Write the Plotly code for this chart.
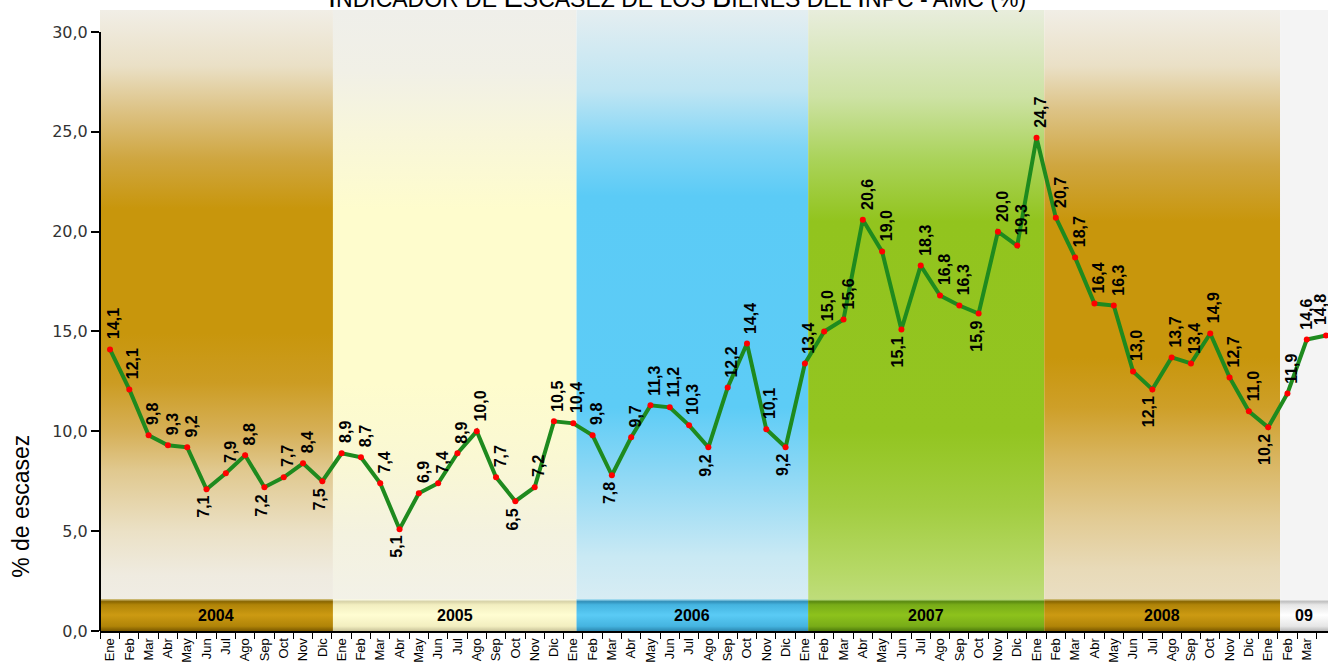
import plotly.graph_objects as go

# ---------------- data ----------------
months = ["Ene", "Feb", "Mar", "Abr", "May", "Jun", "Jul", "Ago", "Sep", "Oct", "Nov", "Dic"]
years = ["2004", "2005", "2006", "2007", "2008", "09"]
month_labels = months * 5 + months[:4]

esc_2004 = [14.1, 12.1, 9.8, 9.3, 9.2, 7.1, 7.9, 8.8, 7.2, 7.7, 8.4, 7.5]
esc_2005 = [8.9, 8.7, 7.4, 5.1, 6.9, 7.4, 8.9, 10.0, 7.7, 6.5, 7.2, 10.5]
esc_2006 = [10.4, 9.8, 7.8, 9.7, 11.3, 11.2, 10.3, 9.2, 12.2, 14.4, 10.1, 9.2]
esc_2007 = [13.4, 15.0, 15.6, 20.6, 19.0, 15.1, 18.3, 16.8, 16.3, 15.9, 20.0, 19.3]
esc_2008 = [24.7, 20.7, 18.7, 16.4, 16.3, 13.0, 12.1, 13.7, 13.4, 14.9, 12.7, 11.0]
esc_2009 = [10.2, 11.9, 14.6, 14.8]
values = esc_2004 + esc_2005 + esc_2006 + esc_2007 + esc_2008 + esc_2009
y_ticks = [0, 5, 10, 15, 20, 25, 30]

# label placement (style): A = above point, B = below point
label_side = list("AAAAABAABAAB" "AAABAAAAABAA" "AABAAAABAAAB" "AAAAABAAABAA" "AAAAAABAAAAA" "BAAA")

# ---------------- styling ----------------
YTOP = 31.1
XR = [-0.518, 63.1]
band_edges = [-0.52, 11.55, 24.17, 36.17, 48.4, 60.62, 63.2]
BAR_TOP = 1.6
FONT = "Liberation Sans, Arial, sans-serif"

band_scales = [
    [[0, "#F1EFE9"], [0.09, "#EFEBE0"], [0.16, "#EBE1C6"], [0.26, "#E0C88E"], [0.32, "#D6B058"],
     [0.40, "#CC9C22"], [0.48, "#C8960C"], [0.68, "#C8960C"], [0.76, "#CFA640"], [0.84, "#DDC386"],
     [0.91, "#EAE0C6"], [1, "#F1EEE6"]],
    [[0, "#F2F1EB"], [0.16, "#F4F2DF"], [0.28, "#FAF8D3"], [0.40, "#FEFCCD"], [0.68, "#FEFCCD"],
     [0.80, "#F8F6DA"], [0.90, "#F1F0E6"], [1, "#EFEFEA"]],
    [[0, "#E2EFF3"], [0.12, "#C9E9F4"], [0.26, "#8AD7F5"], [0.36, "#5DCCF6"], [0.70, "#5BCBF6"],
     [0.78, "#80D5F6"], [0.87, "#BEE5F3"], [1, "#E4EEF1"]],
    [[0, "#C8E190"], [0.10, "#B5D865"], [0.20, "#A2CD40"], [0.32, "#93C521"], [0.66, "#92C41E"],
     [0.76, "#AAD35A"], [0.86, "#CDE2A4"], [1, "#E8EDDC"]],
    [[0, "#EBE2CC"], [0.10, "#E8DAB8"], [0.18, "#E2CB94"], [0.28, "#D8B45E"], [0.36, "#CE9F28"],
     [0.44, "#C8960C"], [0.66, "#C8960C"], [0.75, "#CFA640"], [0.84, "#DDC386"], [0.91, "#EAE0C6"],
     [1, "#F1EEE6"]],
    [[0, "#F4F4F4"], [1, "#F4F4F4"]],
]
bar_scales = [
    [[0, "#7A5800"], [0.15, "#B08408"], [0.5, "#CC9A12"], [0.82, "#B08408"], [0.92, "#8A6600"], [1, "#D8C888"]],
    [[0, "#C9C49A"], [0.15, "#F2EEC0"], [0.5, "#FFFDD2"], [0.82, "#F2EEC0"], [0.92, "#D8D3A8"], [1, "#FFFFF0"]],
    [[0, "#2C88B0"], [0.15, "#45B4E0"], [0.5, "#5ACBF5"], [0.82, "#45B4E0"], [0.92, "#3190BA"], [1, "#B8E8F8"]],
    [[0, "#4E7C0C"], [0.15, "#78AC18"], [0.5, "#8DC21C"], [0.82, "#78AC18"], [0.92, "#5A8A10"], [1, "#C8E890"]],
    [[0, "#7A5800"], [0.15, "#B08408"], [0.5, "#CC9A12"], [0.82, "#B08408"], [0.92, "#8A6600"], [1, "#D8C888"]],
    [[0, "#B8B8B8"], [0.15, "#E6E6E6"], [0.5, "#FFFFFF"], [0.82, "#E6E6E6"], [0.92, "#C0C0C0"], [1, "#FFFFFF"]],
]

fig = go.Figure()

# background year bands (vertical gradients)
for i in range(len(years)):
    x0, x1 = band_edges[i], band_edges[i + 1]
    fig.add_trace(go.Scatter(
        x=[x0, x1, x1, x0, x0], y=[0, 0, YTOP, YTOP, 0], mode="lines",
        line=dict(width=0), fill="toself",
        fillgradient=dict(type="vertical", colorscale=band_scales[i], start=0, stop=YTOP),
        hoverinfo="skip", showlegend=False))

# bottom year bar
for i in range(len(years)):
    x0, x1 = band_edges[i], band_edges[i + 1]
    fig.add_trace(go.Scatter(
        x=[x0, x1, x1, x0, x0], y=[0, 0, BAR_TOP, BAR_TOP, 0], mode="lines",
        line=dict(width=0), fill="toself",
        fillgradient=dict(type="vertical", colorscale=bar_scales[i], start=0, stop=BAR_TOP),
        hoverinfo="skip", showlegend=False))

x_idx = list(range(len(values)))
fig.add_trace(go.Scatter(
    x=x_idx, y=values, mode="lines+markers",
    line=dict(color="#1E8A1E", width=4),
    marker=dict(color="#FF0000", size=6, symbol="circle"),
    cliponaxis=False, showlegend=False))

annotations = []
last = len(values) - 1
for i, v in enumerate(values):
    txt = f"{v:.1f}".replace(".", ",")
    above = label_side[i] == "A"
    xs = 4 if above else -3
    if i == last - 1:
        xs = 0
    if i == last:
        xs = -5
    annotations.append(dict(x=i, y=v, xref="x", yref="y", text=txt, showarrow=False,
                            textangle=-90, xanchor="center",
                            yanchor="bottom" if above else "top",
                            yshift=8 if above else -5, xshift=xs,
                            font=dict(family=FONT, size=16, color="black", weight="bold")))

for i, yr in enumerate(years):
    annotations.append(dict(x=(band_edges[i] + min(band_edges[i + 1], XR[1])) / 2, y=BAR_TOP / 2,
                            xref="x", yref="y", text=f"<b>{yr}</b>", showarrow=False,
                            font=dict(family=FONT, size=16, color="black")))

# y-axis title
annotations.append(dict(x=-0.0643, y=0.2, xref="paper", yref="paper", text="% de escasez",
                        textangle=-90, showarrow=False, xanchor="center", yanchor="middle",
                        font=dict(family=FONT, size=23, color="black")))

# title (small caps look), cut at the top of the page as in the reference
def sc(word):
    return f"<span style='font-size:29px'>{word[0]}</span>{word[1:]}"

title_txt = " ".join(sc(w) if w.isalpha() and len(w) > 3 else w
                     for w in "INDICADOR DE ESCASEZ DE LOS BIENES DEL INPC - AMC (%)".split(" "))
annotations.append(dict(x=0.4695, y=1, xref="paper", yref="paper", text=title_txt, showarrow=False,
                        xanchor="center", yanchor="bottom", yshift=-5,
                        font=dict(family=FONT, size=23, color="black")))

shapes = [dict(type="line", xref="paper", yref="y", x0=0, x1=0, y0=0, y1=30,
               line=dict(color="black", width=2))]

fig.update_layout(
    width=1328, height=669,
    margin=dict(l=100, r=0, t=10, b=38),
    paper_bgcolor="white", plot_bgcolor="white",
    separators=",.",
    showlegend=False,
    annotations=annotations,
    shapes=shapes,
    xaxis=dict(range=XR, tickmode="array", tickvals=x_idx, ticktext=month_labels,
               tickangle=-90, ticks="", showgrid=False, zeroline=False,
               showline=True, linecolor="black", linewidth=2,
               tickfont=dict(family=FONT, size=13, color="black"),
               minor=dict(tickmode="array", tickvals=[i - 0.5 for i in x_idx], ticks="outside",
                          ticklen=6, tickcolor="black", tickwidth=1, showgrid=False)),
    yaxis=dict(range=[0, YTOP], tickmode="array", tickvals=y_ticks, tickformat=".1f",
               ticks="outside", ticklen=8, tickcolor="black", tickwidth=1.5,
               showgrid=False, zeroline=False, showline=False,
               tickfont=dict(family="DejaVu Sans, sans-serif", size=16, color="#333333")),
)

fig.write_html("out.html", config={"displayModeBar": False},
               post_script="document.body.style.margin='0px';document.body.style.overflow='hidden';")
